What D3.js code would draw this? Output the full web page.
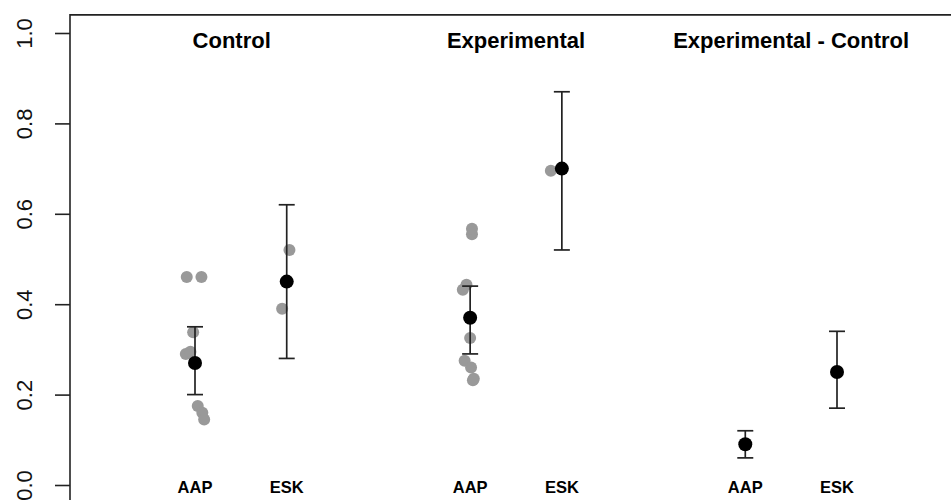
<!DOCTYPE html>
<meta charset="utf-8">
<html>
<head>
<style>
  body { margin: 0; background: #fff; }
  text { font-family: "Liberation Sans", Arial, sans-serif; }
</style>
</head>
<body>
<script src="https://cdnjs.cloudflare.com/ajax/libs/d3/7.8.5/d3.min.js"></script>
<div id="my_dataviz"></div>
<script>

// panel titles and where they sit (x units)
var panelTitles = ["Control", "Experimental", "Experimental - Control"];
var panelTitleX = [1.4, 4.5, 7.5];

// groups: x position, label, mean and interval
var groupX     = [1, 2, 4, 5, 7, 8];
var groupLabel = ["AAP", "ESK", "AAP", "ESK", "AAP", "ESK"];
var groupMean  = [0.27, 0.45, 0.37, 0.70, 0.09, 0.25];
var groupLow   = [0.20, 0.28, 0.29, 0.52, 0.06, 0.17];
var groupHigh  = [0.35, 0.62, 0.44, 0.87, 0.12, 0.34];

// individual (jittered) observations
var obsX = [0.91, 1.07, 0.98, 0.90, 0.95, 1.03, 1.08, 1.10,
            2.03, 1.95,
            4.02, 4.02, 3.96, 3.92, 4.00, 3.94, 4.01, 4.04, 4.03,
            4.88];
var obsY = [0.46, 0.46, 0.338, 0.29, 0.295, 0.175, 0.16, 0.145,
            0.52, 0.39,
            0.555, 0.567, 0.443, 0.432, 0.325, 0.275, 0.26, 0.235, 0.232,
            0.695];

var yTicks = [0, 0.2, 0.4, 0.6, 0.8, 1.0];

var width = 951, height = 500;
var svg = d3.select("#my_dataviz")
  .append("svg")
    .attr("width", width)
    .attr("height", height);

var x = d3.scaleLinear().domain([1, 8]).range([195, 837]);
var y = d3.scaleLinear().domain([0, 1]).range([485, 33]);

// plot box edges (R style 4% padding)
var boxLeft = 70, boxTop = y(1.04), boxBottom = y(-0.04);

// frame: left axis line and top border
svg.append("path")
    .attr("d", "M" + boxLeft + "," + boxBottom + "V" + boxTop + "H" + (width + 10))
    .attr("fill", "none")
    .attr("stroke", "#222")
    .attr("stroke-width", 1.6);

// y axis ticks
var yAxis = svg.append("g")
    .attr("transform", "translate(" + boxLeft + ",0)")
    .call(d3.axisLeft(y).tickValues(yTicks).tickSize(15).tickFormat(d3.format(".1f")));
yAxis.select(".domain").remove();
yAxis.selectAll(".tick line").attr("stroke", "#222").attr("stroke-width", 1.6);
yAxis.selectAll(".tick text")
    .attr("x", null).attr("dy", null)
    .attr("transform", "translate(-38,0) rotate(-90)")
    .attr("text-anchor", "middle")
    .style("font-size", "22px")
    .attr("fill", "#111");

// panel titles
svg.selectAll(".ptitle")
  .data(panelTitles)
  .enter()
  .append("text")
    .attr("x", function(d, i) { return x(panelTitleX[i]); })
    .attr("y", 48)
    .attr("text-anchor", "middle")
    .style("font-size", "22px")
    .style("font-weight", "bold")
    .text(function(d) { return d; });

// group labels
svg.selectAll(".glabel")
  .data(groupLabel)
  .enter()
  .append("text")
    .attr("x", function(d, i) { return x(groupX[i]); })
    .attr("y", 493)
    .attr("text-anchor", "middle")
    .style("font-size", "16.5px")
    .style("font-weight", "bold")
    .text(function(d) { return d; });

// raw points
svg.selectAll(".obs")
  .data(obsY)
  .enter()
  .append("circle")
    .attr("cx", function(d, i) { return x(obsX[i]); })
    .attr("cy", function(d) { return y(d); })
    .attr("r", 6)
    .style("fill", "#999");

// error bars
var bars = svg.selectAll(".bar")
  .data(groupX)
  .enter()
  .append("g");
bars.append("line")
    .attr("x1", function(d) { return x(d); })
    .attr("x2", function(d) { return x(d); })
    .attr("y1", function(d, i) { return y(groupLow[i]); })
    .attr("y2", function(d, i) { return y(groupHigh[i]); });
bars.append("line")
    .attr("x1", function(d) { return x(d) - 8; })
    .attr("x2", function(d) { return x(d) + 8; })
    .attr("y1", function(d, i) { return y(groupLow[i]); })
    .attr("y2", function(d, i) { return y(groupLow[i]); });
bars.append("line")
    .attr("x1", function(d) { return x(d) - 8; })
    .attr("x2", function(d) { return x(d) + 8; })
    .attr("y1", function(d, i) { return y(groupHigh[i]); })
    .attr("y2", function(d, i) { return y(groupHigh[i]); });
bars.selectAll("line").attr("stroke", "#222").attr("stroke-width", 1.7);

// means
svg.selectAll(".mean")
  .data(groupMean)
  .enter()
  .append("circle")
    .attr("cx", function(d, i) { return x(groupX[i]); })
    .attr("cy", function(d) { return y(d); })
    .attr("r", 7)
    .style("fill", "#000");

</script>
</body>
</html>
